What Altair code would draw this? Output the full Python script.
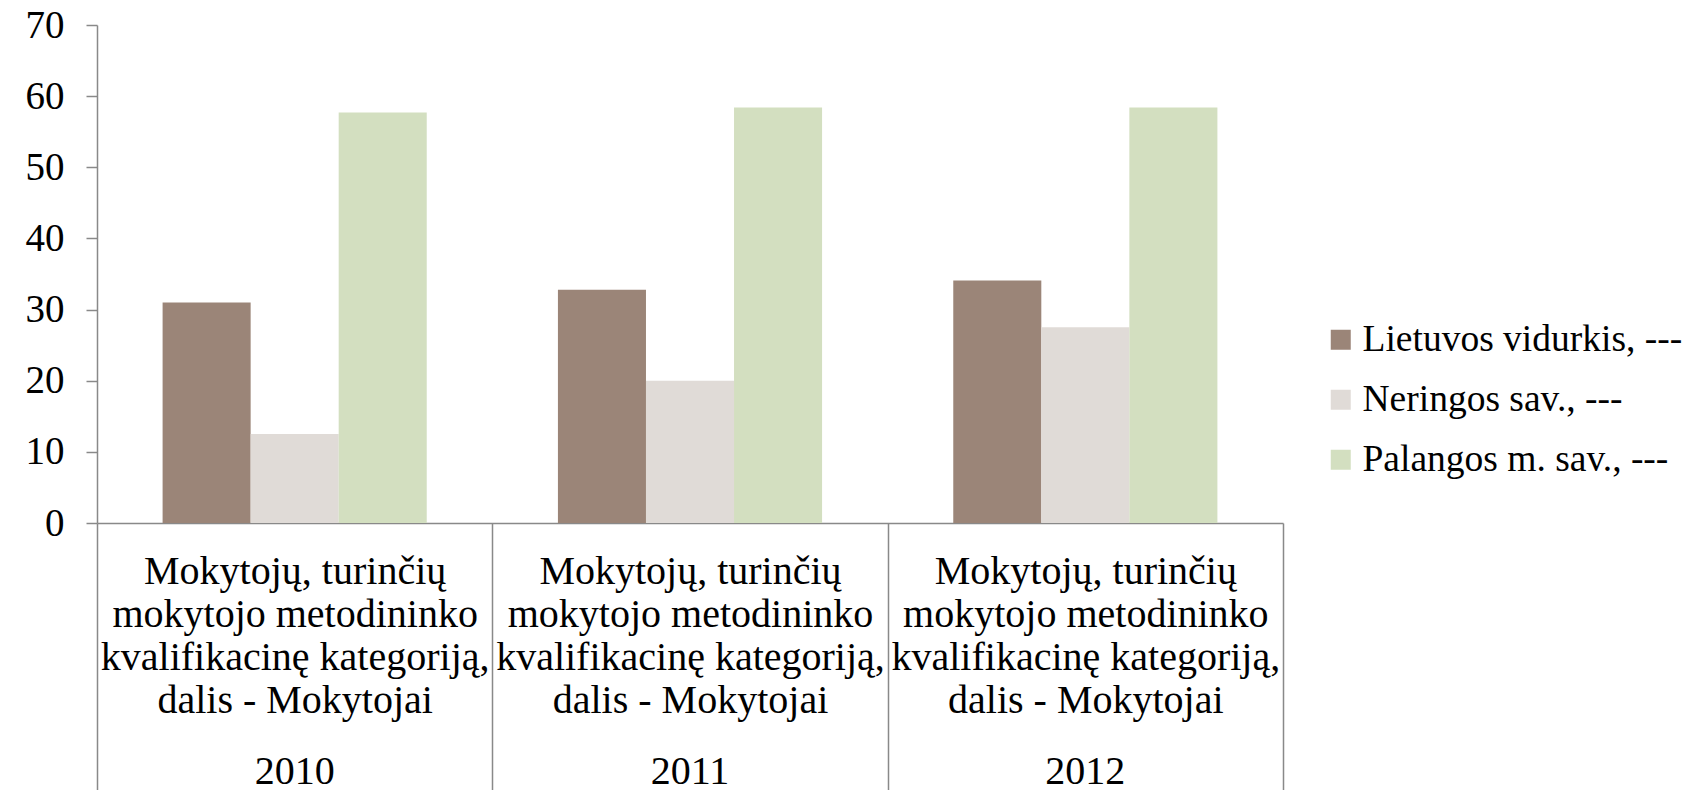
import altair as alt
import pandas as pd

years = ["2010", "2011", "2012"]
category_lines = ["Mokytojų, turinčių", "mokytojo metodininko", "kvalifikacinę kategoriją,", "dalis - Mokytojai"]
series = ["Lietuvos vidurkis, ---", "Neringos sav., ---", "Palangos m. sav., ---"]
lietuvos = [31.0, 32.8, 34.1]
neringos = [12.5, 20.0, 27.5]
palangos = [57.7, 58.4, 58.4]
colors = ["#9B8578", "#E0DBD7", "#D3DFC0"]
y_ticks = [0, 10, 20, 30, 40, 50, 60, 70]

rows = []
for s, vals in zip(series, [lietuvos, neringos, palangos]):
    for yr, v in zip(years, vals):
        rows.append({"year": yr, "series": s, "value": v})
df = pd.DataFrame(rows)
df_years = pd.DataFrame({"year": years})

FONT = "Liberation Serif"
FS = 40
AX = "#898989"
W, H = 1186, 498

years_js = "[" + ", ".join("'" + y + "'" for y in years) + "]"
lines_js = "[" + ", ".join("'" + t + "'" for t in category_lines) + "]"
label_expr = f"indexof({years_js}, datum.value) >= 0 ? {lines_js} : ''"

x_enc = alt.X(
    "year:N",
    sort=years,
    scale=alt.Scale(paddingInner=0, paddingOuter=0),
    axis=alt.Axis(
        title=None,
        labelExpr=label_expr,
        labelFont=FONT,
        labelFontSize=FS,
        labelColor="black",
        labelLineHeight=43,
        labelBaseline="top",
        labelAngle=0,
        labelLimit=0,
        labelOverlap=False,
        labelBound=False,
        labelPadding=-239,
        tickBand="extent",
        tickSize=267,
        tickColor=AX,
        tickWidth=1.5,
        domainColor=AX,
        domainWidth=1.5,
        grid=False,
    ),
)

bars = alt.Chart(df).mark_bar().encode(
    x=x_enc,
    xOffset=alt.XOffset("series:N", sort=series,
                        scale=alt.Scale(paddingInner=0, paddingOuter=0.745)),
    y=alt.Y(
        "value:Q",
        scale=alt.Scale(domain=[0, 70], nice=False),
        axis=alt.Axis(
            title=None,
            values=y_ticks,
            labelFont=FONT,
            labelFontSize=39,
            labelColor="black",
            labelPadding=22,
            tickSize=11,
            tickColor=AX,
            tickWidth=1.5,
            domainColor=AX,
            domainWidth=1.5,
            grid=False,
        ),
    ),
    color=alt.Color(
        "series:N",
        sort=series,
        scale=alt.Scale(domain=series, range=colors),
        legend=alt.Legend(
            title=None,
            orient="none",
            legendX=1225,
            legendY=296,
            symbolType="square",
            symbolSize=400,
            symbolStrokeWidth=0,
            labelFont=FONT,
            labelFontSize=37.5,
            labelColor="black",
            labelOffset=3,
            labelLimit=0,
            rowPadding=21,
        ),
    ),
)

year_text = alt.Chart(df_years).mark_text(
    font=FONT, fontSize=FS, color="black", baseline="middle"
).encode(
    x=alt.X("year:N", sort=years),
    y=alt.value(H + 249),
    text="year:N",
)

chart = alt.layer(bars, year_text).properties(
    width=W,
    height=H,
    autosize=alt.AutoSizeParams(type="none"),
    padding={"left": 89, "top": 17, "right": 399, "bottom": 267},
).configure_view(stroke=None)

chart.save("out.html", embed_options={"renderer": "svg", "actions": False})
